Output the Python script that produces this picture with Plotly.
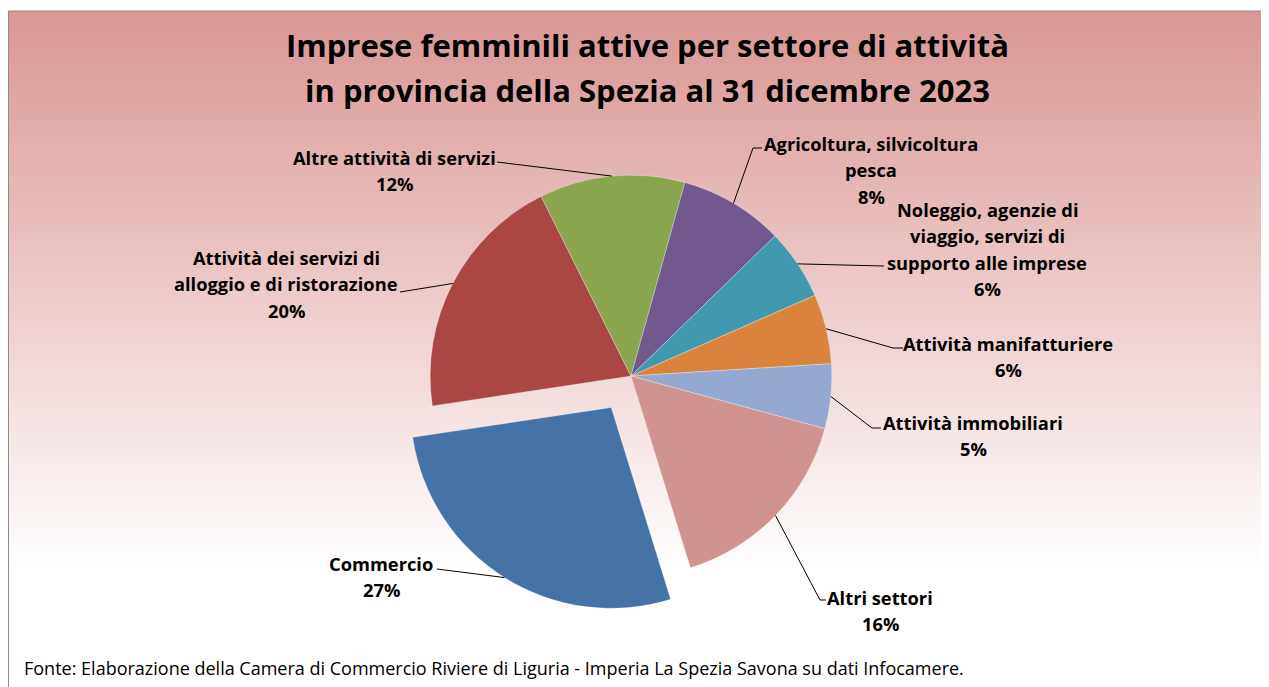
import math
import plotly.graph_objects as go

W, H = 1269, 687
OFF = 8  # page margin of the browser body

# ---- data (percent shares) ----
sectors = [
    "Commercio",
    "Attività dei servizi di alloggio e di ristorazione",
    "Altre attività di servizi",
    "Agricoltura, silvicoltura pesca",
    "Noleggio, agenzie di viaggio, servizi di supporto alle imprese",
    "Attività manifatturiere",
    "Attività immobiliari",
    "Altri settori",
]
shares = [27.4, 20.0, 11.7, 8.4, 5.7, 5.6, 5.2, 16.0]
label_lines = [
    ["Commercio"],
    ["Attività dei servizi di", "alloggio e di ristorazione"],
    ["Altre attività di servizi"],
    ["Agricoltura, silvicoltura", "pesca"],
    ["Noleggio, agenzie di", "viaggio, servizi di", "supporto alle imprese"],
    ["Attività manifatturiere"],
    ["Attività immobiliari"],
    ["Altri settori"],
]
title_lines = ["Imprese femminili attive per settore di attività",
               "in provincia della Spezia al 31 dicembre 2023"]
source_text = ("Fonte: Elaborazione della Camera di Commercio Riviere di Liguria - "
               "Imperia La Spezia Savona su dati Infocamere.")

# ---- styles / layout ----
colors = ["#4572A7", "#AA4643", "#89A54E", "#71588F", "#4198AF", "#DB843D", "#93A9CF", "#D19392"]
pulls = [0.185, 0, 0, 0, 0, 0, 0, 0]
rotation = 162.8
dom_px_x = (393, 869)
dom_px_y = (138, 614)
# label positions (text centre x, first line centre y) and leader elbows (pixels)
label_pos = [(381, 563), (286, 257), (394, 157), (871, 143), (987, 209), (1008, 343), (973, 422), (880, 597)]
leader_pts = [
    [(437, 569)],
    [(400, 292)],
    [(497, 162)],
    [(753, 148), (762, 148)],
    [(884, 266)],
    [(893, 348), (903, 348)],
    [(872, 428), (881, 428)],
    [(820, 600), (826, 600)],
]
LINE_H = 26.5
FONT = "Open Sans"
LABEL_SIZE = 18.3


def px(x):
    return (x - OFF) / W


def py(y):
    return 1 - (y - OFF) / H


fig = go.Figure()
fig.add_trace(go.Pie(
    labels=sectors, values=shares, sort=False, direction="clockwise",
    rotation=rotation, pull=pulls, textinfo="none", hoverinfo="label+percent",
    marker=dict(colors=colors, line=dict(color="rgba(255,255,255,0.5)", width=0.6)),
    domain=dict(x=[px(dom_px_x[0]), px(dom_px_x[1])], y=[py(dom_px_y[1]), py(dom_px_y[0])]),
    showlegend=False,
))

shapes = []
# gradient background bands
top, bot = 11, 571
c0 = (0xD9, 0x96, 0x94)
c1 = (0xFF, 0xFF, 0xFF)
step = 4
y = top
while y < bot:
    t = (y - top + step / 2) / (bot - top)
    c = tuple(round(a + (b - a) * t) for a, b in zip(c0, c1))
    shapes.append(dict(type="rect", xref="paper", yref="paper", layer="below",
                       x0=px(8.5), x1=px(1300), y0=py(y), y1=py(min(y + step + 0.5, bot)),
                       fillcolor="rgb(%d,%d,%d)" % c, line=dict(width=0)))
    y += step
shapes.append(dict(type="rect", xref="paper", yref="paper", layer="below",
                   x0=px(8.5), x1=px(1300), y0=py(720), y1=py(11),
                   fillcolor="rgba(0,0,0,0)", line=dict(color="#8c8c8c", width=1)))

# leader lines from slice mid-points (computed from data)
cx = (dom_px_x[0] + dom_px_x[1]) / 2
cy = (dom_px_y[0] + dom_px_y[1]) / 2
r = min(dom_px_x[1] - dom_px_x[0], dom_px_y[1] - dom_px_y[0]) / 2 / (1 + max(pulls))
total = sum(shares)
ang = rotation
annotations = []
for i, v in enumerate(shares):
    span = v / total * 360
    mid = math.radians(ang + span / 2)
    ang += span
    rr = r * (1 + pulls[i])
    ax, ay = cx + rr * math.sin(mid), cy - rr * math.cos(mid)
    pts = [(ax, ay)] + leader_pts[i]
    path = "M " + " L ".join("%f,%f" % (px(x), py(y)) for x, y in pts)
    shapes.append(dict(type="path", xref="paper", yref="paper", path=path,
                       line=dict(color="#000000", width=1)))
    pct = "%d%%" % round(v / total * 100)
    lx, ly = label_pos[i]
    for j, line in enumerate(label_lines[i] + [pct]):
        annotations.append(dict(text="<b>%s</b>" % line, x=px(lx), y=py(ly + j * LINE_H),
                                xref="paper", yref="paper", showarrow=False,
                                xanchor="center", yanchor="middle",
                                font=dict(family=FONT, size=LABEL_SIZE, color="#000000")))

for j, line in enumerate(title_lines):
    annotations.append(dict(text="<b>%s</b>" % line, x=px(648), y=py(45 + j * 45),
                            xref="paper", yref="paper", showarrow=False,
                            xanchor="center", yanchor="middle",
                            font=dict(family=FONT, size=31, color="#000000")))
annotations.append(dict(text=source_text, x=px(22), y=py(668), xref="paper", yref="paper",
                        showarrow=False, xanchor="left", yanchor="middle",
                        font=dict(family=FONT, size=18, color="#000000")))

fig.update_layout(width=W, height=H, margin=dict(l=0, r=0, t=0, b=0),
                  paper_bgcolor="#ffffff", plot_bgcolor="#ffffff",
                  shapes=shapes, annotations=annotations)
fig.write_html("out.html")
